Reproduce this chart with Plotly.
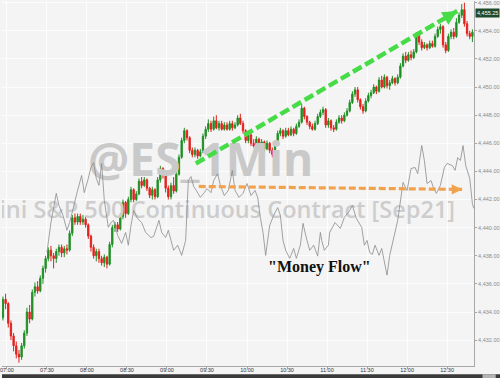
import plotly.graph_objects as go
import pandas as pd

DAY = "2021-08-16"

# ---- 2-minute OHLC bars ----
bar_start = f"{DAY} 06:57"
bar_count = 177
opens = [4433.6,4434.9,4434.6,4433.2,4432.3,4431.6,4431.0,4430.8,4431.6,4432.5,
         4434.0,4433.5,4435.4,4435.8,4435.5,4436.4,4437.1,4437.8,4438.4,4438.0,
         4437.8,4438.3,4438.6,4438.2,4438.5,4438.4,4439.6,4440.7,4440.4,4440.8,
         4440.4,4440.6,4440.2,4439.4,4438.6,4438.0,4438.3,4437.8,4437.5,4437.9,
         4437.4,4438.8,4440.0,4440.2,4439.9,4440.8,4441.8,4441.0,4442.0,4442.7,
         4442.0,4442.4,4443.3,4443.0,4443.4,4442.8,4442.3,4442.7,4442.2,4443.4,
         4444.2,4443.8,4442.8,4442.2,4443.0,4442.6,4443.8,4445.0,4446.2,4446.9,
         4446.4,4445.5,4445.2,4445.5,4445.1,4445.4,4446.5,4447.0,4447.4,4447.0,
         4447.6,4447.1,4447.4,4447.0,4447.3,4447.0,4447.4,4447.1,4447.3,4447.8,
         4447.4,4446.9,4446.2,4446.6,4446.0,4445.8,4446.3,4445.7,4446.1,4445.6,
         4446.0,4445.5,4445.2,4445.9,4446.7,4446.9,4446.5,4446.9,4446.6,4447.0,
         4446.7,4447.2,4447.5,4448.5,4447.9,4447.5,4447.2,4447.0,4447.4,4447.9,
         4448.2,4448.4,4447.3,4447.6,4447.1,4447.0,4447.5,4447.8,4447.6,4448.0,
         4448.3,4448.9,4449.5,4449.8,4449.1,4448.6,4448.3,4449.0,4449.4,4449.6,
         4450.0,4449.7,4450.5,4450.0,4450.7,4450.1,4450.3,4450.6,4450.3,4450.7,
         4451.5,4452.2,4451.9,4452.3,4452.1,4452.5,4453.7,4453.2,4452.8,4453.0,
         4452.8,4453.1,4452.9,4453.6,4454.1,4454.3,4453.0,4452.6,4453.6,4453.9,
         4453.6,4454.6,4455.1,4455.5,4454.5,4453.8,4453.6]
highs = [4435.1,4435.3,4434.7,4433.4,4432.5,4431.9,4431.3,4431.8,4432.7,4434.3,
         4434.5,4435.6,4436.1,4436.2,4436.6,4437.3,4438.0,4438.6,4438.7,4438.2,
         4438.5,4438.8,4438.8,4438.7,4438.8,4439.8,4440.9,4441.0,4441.0,4441.0,
         4440.9,4440.8,4440.3,4439.5,4438.8,4438.5,4438.5,4438.0,4438.1,4438.0,
         4439.0,4440.2,4440.4,4440.4,4441.0,4442.0,4441.9,4442.2,4442.9,4442.8,
         4442.6,4443.5,4443.6,4443.6,4443.5,4442.9,4442.9,4442.8,4443.6,4444.4,
         4444.3,4443.9,4443.0,4443.2,4443.6,4444.0,4445.2,4446.4,4447.1,4447.0,
         4446.5,4445.7,4445.7,4445.6,4445.6,4446.7,4447.2,4447.7,4447.6,4447.9,
         4448.0,4447.6,4447.6,4447.5,4447.5,4447.6,4447.6,4447.5,4448.0,4448.1,
         4447.6,4447.0,4446.8,4446.7,4446.3,4446.5,4446.4,4446.3,4446.2,4446.2,
         4446.1,4445.7,4446.0,4446.9,4447.1,4447.0,4447.1,4447.1,4447.2,4447.1,
         4447.4,4447.7,4448.8,4448.6,4448.0,4447.6,4447.4,4447.6,4448.1,4448.4,
         4448.6,4448.5,4447.8,4447.7,4447.3,4447.7,4448.0,4448.0,4448.2,4448.5,
         4449.1,4449.7,4450.0,4450.0,4449.2,4448.8,4449.2,4449.6,4449.8,4450.2,
         4450.1,4450.7,4450.8,4450.9,4450.8,4450.5,4450.8,4450.7,4450.9,4451.7,
         4452.4,4452.5,4452.5,4452.6,4452.7,4453.9,4453.8,4453.4,4453.2,4453.1,
         4453.3,4453.3,4453.8,4454.3,4454.5,4454.4,4453.2,4453.8,4454.1,4454.2,
         4454.9,4455.3,4455.9,4456.0,4454.7,4454.0,4454.1]
lows = [4433.4,4434.2,4432.9,4432.0,4431.2,4430.7,4430.4,4430.6,4431.4,4432.3,
        4433.2,4433.4,4435.1,4435.3,4435.4,4436.0,4436.8,4437.6,4437.6,4437.1,
        4437.5,4438.0,4437.9,4437.9,4438.1,4438.3,4439.4,4440.2,4440.2,4440.2,
        4440.2,4440.0,4439.2,4438.3,4437.8,4437.6,4437.5,4437.3,4437.2,4437.1,
        4437.3,4438.6,4439.7,4439.7,4439.8,4440.6,4440.7,4440.9,4441.8,4441.8,
        4441.9,4442.3,4442.8,4442.9,4442.6,4442.1,4442.0,4442.0,4442.1,4443.2,
        4443.5,4442.5,4442.0,4442.0,4442.4,4442.5,4443.7,4444.9,4446.0,4446.2,
        4445.3,4445.0,4445.0,4444.9,4445.0,4445.3,4446.3,4446.8,4446.8,4446.9,
        4447.0,4446.9,4446.9,4446.9,4446.9,4446.9,4446.9,4447.0,4447.2,4447.3,
        4446.7,4446.0,4446.0,4445.8,4445.7,4445.7,4445.5,4445.5,4445.4,4445.5,
        4445.3,4445.0,4445.0,4445.8,4446.5,4446.3,4446.4,4446.5,4446.5,4446.5,
        4446.6,4447.1,4447.4,4447.7,4447.3,4447.0,4446.9,4446.9,4447.3,4447.8,
        4448.0,4447.1,4447.1,4446.9,4446.8,4446.9,4447.4,4447.4,4447.5,4447.9,
        4448.2,4448.8,4449.3,4448.9,4448.4,4448.1,4448.2,4448.9,4449.2,4449.5,
        4449.5,4449.6,4449.9,4449.9,4449.9,4449.8,4450.2,4450.1,4450.2,4450.6,
        4451.4,4451.7,4451.8,4451.9,4452.0,4452.4,4453.0,4452.6,4452.7,4452.6,
        4452.7,4452.8,4452.8,4453.5,4453.8,4452.8,4452.4,4452.5,4453.4,4453.4,
        4453.5,4454.5,4454.9,4454.3,4453.6,4453.4,4453.2]
closes = [4434.9,4434.6,4433.2,4432.3,4431.6,4431.0,4430.8,4431.6,4432.5,4434.0,
          4433.5,4435.4,4435.8,4435.5,4436.4,4437.1,4437.8,4438.4,4438.0,4437.8,
          4438.3,4438.6,4438.2,4438.5,4438.4,4439.6,4440.7,4440.4,4440.8,4440.4,
          4440.6,4440.2,4439.4,4438.6,4438.0,4438.3,4437.8,4437.5,4437.9,4437.4,
          4438.8,4440.0,4440.2,4439.9,4440.8,4441.8,4441.0,4442.0,4442.7,4442.0,
          4442.4,4443.3,4443.0,4443.4,4442.8,4442.3,4442.7,4442.2,4443.4,4444.2,
          4443.8,4442.8,4442.2,4443.0,4442.6,4443.8,4445.0,4446.2,4446.9,4446.4,
          4445.5,4445.2,4445.5,4445.1,4445.4,4446.5,4447.0,4447.4,4447.0,4447.6,
          4447.1,4447.4,4447.0,4447.3,4447.0,4447.4,4447.1,4447.3,4447.8,4447.4,
          4446.9,4446.2,4446.6,4446.0,4445.8,4446.3,4445.7,4446.1,4445.6,4446.0,
          4445.5,4445.2,4445.9,4446.7,4446.9,4446.5,4446.9,4446.6,4447.0,4446.7,
          4447.2,4447.5,4448.5,4447.9,4447.5,4447.2,4447.0,4447.4,4447.9,4448.2,
          4448.4,4447.3,4447.6,4447.1,4447.0,4447.5,4447.8,4447.6,4448.0,4448.3,
          4448.9,4449.5,4449.8,4449.1,4448.6,4448.3,4449.0,4449.4,4449.6,4450.0,
          4449.7,4450.5,4450.0,4450.7,4450.1,4450.3,4450.6,4450.3,4450.7,4451.5,
          4452.2,4451.9,4452.3,4452.1,4452.5,4453.7,4453.2,4452.8,4453.0,4452.8,
          4453.1,4452.9,4453.6,4454.1,4454.3,4453.0,4452.6,4453.6,4453.9,4453.6,
          4454.6,4455.1,4455.5,4454.5,4453.8,4453.6,4453.9]

# ---- "Money Flow" indicator (own hidden scale, 0-100) ----
mf_times = ["07:30","07:33","07:37","07:39","07:42","07:45","07:47","07:50","07:53","07:56",
            "07:58","08:01","08:03","08:05","08:07","08:09","08:11","08:13","08:16","08:18",
            "08:20","08:23","08:26","08:29","08:31","08:33","08:35","08:38","08:41","08:44",
            "08:48","08:50","08:54","08:56","08:59","09:01","09:05","09:08","09:11","09:14",
            "09:16","09:18","09:20","09:22","09:25","09:28","09:30","09:33","09:35","09:38",
            "09:40","09:43","09:46","09:49","09:51","09:54","09:57","10:00","10:03","10:06",
            "10:08","10:10","10:12","10:14","10:15","10:17","10:20","10:23","10:25","10:27",
            "10:29","10:32","10:35","10:37","10:40","10:42","10:44","10:47","10:50","10:53",
            "10:55","10:56","10:58","11:01","11:02","11:06","11:10","11:13","11:17","11:19",
            "11:22","11:26","11:28","11:30","11:32","11:34","11:36","11:39","11:41","11:43",
            "11:45","11:47","11:49","11:53","11:57","12:00","12:03","12:06","12:08","12:11",
            "12:13","12:15","12:18","12:20","12:22","12:25","12:28","12:30","12:34","12:36",
            "12:38","12:40","12:42","12:44","12:47","12:49","12:50"]
mf_values = [31.1,39.3,47.3,44.0,41.3,37.2,39.3,44.0,48.1,52.2,
             47.5,51.4,54.4,55.7,51.4,49.5,55.5,45.4,38.0,39.3,
             39.9,35.8,33.6,36.6,33.1,38.5,42.6,40.4,39.3,36.6,
             35.2,35.5,39.9,36.6,35.2,37.2,31.7,33.1,30.3,34.4,
             50.8,51.9,49.2,48.1,46.2,47.5,48.6,47.5,50.8,52.7,
             49.5,46.7,48.1,53.6,48.1,46.2,47.3,50.0,46.7,48.1,
             46.2,40.7,36.6,30.3,33.1,38.5,41.3,43.4,41.3,34.4,
             31.7,29.5,32.2,29.5,33.1,39.1,35.8,31.7,33.1,30.1,
             36.6,34.4,31.7,33.1,36.6,39.3,37.7,40.7,42.6,44.0,
             40.4,38.0,33.1,34.4,31.1,30.6,33.1,30.3,32.2,28.4,
             24.9,30.3,33.6,39.9,50.3,48.1,54.1,54.4,52.7,60.4,
             56.3,50.0,50.8,48.6,47.3,49.5,54.4,55.5,54.9,53.6,
             57.1,56.3,60.4,54.9,51.4,44.5,43.2]

last_price = 4455.25
last_price_label = "4,455.25"
watermark_1 = "@ES_1Min"
watermark_2 = "E-mini S&P 500 Continuous Contract [Sep21]"
note_text = "\"Money Flow\""

# trend arrows: (time, price) endpoints
green_arrow = [("09:21:36", 4444.56), ("12:37:36", 4455.41)]
orange_arrow = [("09:23:50", 4442.93), ("12:41:18", 4442.72)]

def ts(hm):
    return f"{DAY} {hm}"

bar_times = pd.date_range(bar_start, periods=bar_count, freq="2min")
X_RANGE = [ts("06:56:18"), ts("12:50:12")]
Y_RANGE = [4430.16, 4456.12]

GREEN = "#1f8f24"
RED = "#e3211c"
BG = "#f4f4f4"
ARROW_GREEN = "#47dc47"
ARROW_ORANGE = "#f0a24e"

fig = go.Figure()

# watermark (drawn first so it sits under the candles)
fig.add_trace(go.Scatter(
    x=[ts("09:25:18")], y=[4444.49], mode="text", text=[watermark_1],
    textfont=dict(family="Open Sans", size=46, color="#c9c9c9", weight=700),
    hoverinfo="skip", showlegend=False, cliponaxis=True))
fig.add_trace(go.Scatter(
    x=[ts("12:36:00")], y=[4441.1], mode="text", text=[watermark_2],
    textposition="middle left",
    textfont=dict(family="Open Sans", size=23.5, color="#cdcdcd", weight=600),
    hoverinfo="skip", showlegend=False, cliponaxis=True))

fig.add_trace(go.Scatter(
    x=[ts(t) for t in mf_times], y=mf_values, mode="lines", yaxis="y2",
    line=dict(color="#8c8c8c", width=0.8), hoverinfo="skip", showlegend=False))

fig.add_trace(go.Candlestick(
    x=bar_times, open=opens, high=highs, low=lows, close=closes,
    increasing=dict(line=dict(color=GREEN, width=1), fillcolor=GREEN),
    decreasing=dict(line=dict(color=RED, width=1), fillcolor=RED),
    whiskerwidth=0, showlegend=False, hoverinfo="skip"))

shapes = [
    dict(type="line", xref="x", yref="y",
         x0=ts(green_arrow[0][0]), y0=green_arrow[0][1],
         x1=ts(green_arrow[1][0]), y1=green_arrow[1][1],
         line=dict(color=ARROW_GREEN, width=4.5, dash="10px,4px")),
    dict(type="line", xref="x", yref="y",
         x0=ts(orange_arrow[0][0]), y0=orange_arrow[0][1],
         x1=ts(orange_arrow[1][0]), y1=orange_arrow[1][1],
         line=dict(color=ARROW_ORANGE, width=3.2, dash="7px,3px")),
    # bottom dark bar
    dict(type="rect", xref="paper", yref="paper", x0=0, x1=1.06,
         y0=-0.034, y1=-0.0225, fillcolor="#3a3a3a", line=dict(width=0), layer="above"),
    dict(type="rect", xref="paper", yref="paper", x0=1.018, x1=1.046,
         y0=-0.034, y1=-0.0225, fillcolor="#b4b4b4", line=dict(width=0), layer="above"),
]

annotations = [
    dict(x=ts(green_arrow[1][0]), y=green_arrow[1][1], xref="x", yref="y",
         axref="pixel", ayref="pixel", ax=-10, ay=6, text="", showarrow=True,
         arrowhead=2, arrowsize=0.65, arrowwidth=4.5, arrowcolor=ARROW_GREEN, standoff=0),
    dict(x=ts(orange_arrow[1][0]), y=orange_arrow[1][1], xref="x", yref="y",
         axref="pixel", ayref="pixel", ax=-8, ay=0, text="", showarrow=True,
         arrowhead=2, arrowsize=0.65, arrowwidth=3.2, arrowcolor=ARROW_ORANGE, standoff=0),
    dict(x=ts("10:54:40"), y=4437.18, xref="x", yref="y", text=note_text,
         showarrow=False, font=dict(family="Liberation Serif", size=16, color="#111111", weight=700)),
    dict(x=1.002, y=last_price, xref="paper", yref="y", xanchor="left", yanchor="middle",
         text=last_price_label, showarrow=False, bgcolor="#1d4a2a", borderpad=1,
         font=dict(family="Liberation Sans", size=5.5, color="#ffffff")),
]

fig.update_layout(
    width=500, height=378,
    margin=dict(l=0, r=25, t=0, b=12),
    paper_bgcolor=BG, plot_bgcolor=BG,
    showlegend=False,
    shapes=shapes, annotations=annotations,
    xaxis=dict(range=X_RANGE, type="date", rangeslider=dict(visible=False),
               tick0=ts("07:00"), dtick=30 * 60 * 1000, tickformat="%H:%M",
               showgrid=True, gridcolor="#fdfdfd", gridwidth=1,
               showline=True, linecolor="#a8a8a8", linewidth=1,
               ticks="outside", ticklen=2, tickcolor="#a8a8a8",
               ticklabelstandoff=-4, ticklabeloverflow="allow",
               tickfont=dict(family="Liberation Sans", size=5.5, color="#333333"),
               zeroline=False),
    yaxis=dict(range=Y_RANGE, side="right", tick0=4430, dtick=2, tickformat=",.2f",
               showgrid=True, gridcolor="#fdfdfd", gridwidth=1,
               showline=True, linecolor="#a8a8a8", linewidth=1,
               ticks="outside", ticklen=2, tickcolor="#a8a8a8",
               ticklabeloverflow="allow",
               tickfont=dict(family="Liberation Sans", size=5.5, color="#8a8a8a"),
               zeroline=False),
    yaxis2=dict(range=[0, 100], overlaying="y", side="right", visible=False),
)

fig.write_html("out.html")
